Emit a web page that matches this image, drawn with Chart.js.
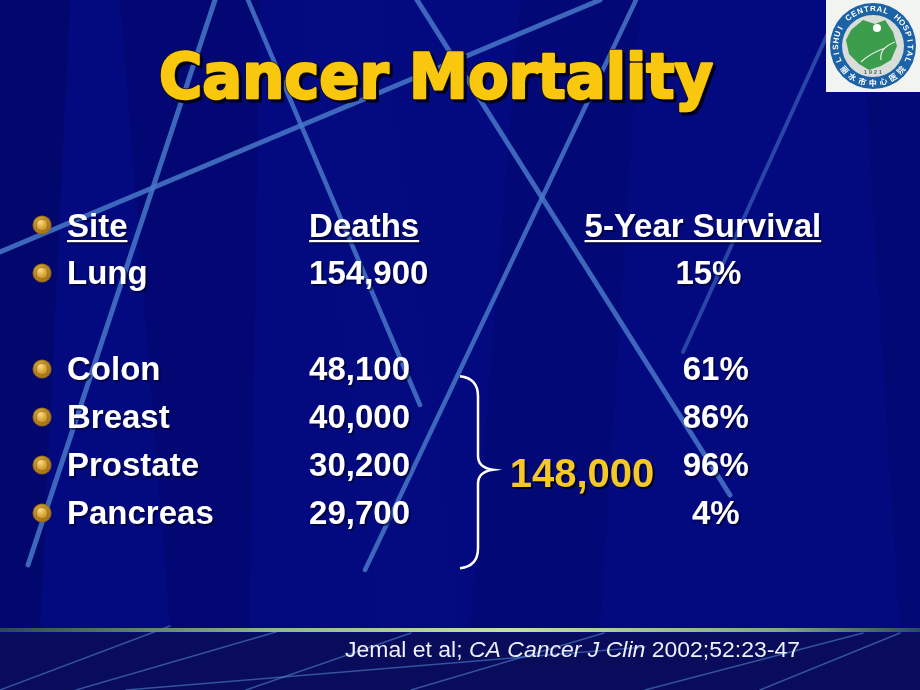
<!DOCTYPE html>
<html>
<head>
<meta charset="utf-8">
<script src="https://cdn.jsdelivr.net/npm/chart.js@4"></script>
<style>
  html, body { margin: 0; padding: 0; background: #03087c; }
  canvas { display: block; }
</style>
</head>
<body>
<canvas id="slide" width="920" height="690"></canvas>
<script>
var titleText = 'Cancer Mortality';
var headers = ['Site', 'Deaths', '5-Year Survival'];
var sites = ['Lung', 'Colon', 'Breast', 'Prostate', 'Pancreas'];
var deaths = [154900, 48100, 40000, 30200, 29700];
var survival = [15, 61, 86, 96, 4];
var groupTotal = 148000;
var citation = ['Jemal et al; ', 'CA Cancer J Clin', ' 2002;52:23-47'];

// layout: row slot per site (blank slot after Lung), column positions in % of width
var rowSlots = [1, 3, 4, 5, 6];
var col = { bullet: 4.57, site: 7.28, deaths: 33.6, brace: 50, total: 55.4, survHead: 76.4, surv: 77.8 };

var bodyFont = 'bold 33px "Liberation Sans", Arial, sans-serif';

// gold coin bullet used as point style
var coin = document.createElement('canvas');
coin.width = 20; coin.height = 20;
(function () {
    var c = coin.getContext('2d');
    var g = c.createRadialGradient(8, 7, 1, 10, 10, 10);
    g.addColorStop(0, '#f6d676');
    g.addColorStop(0.55, '#d09a30');
    g.addColorStop(1, '#8a5c12');
    c.fillStyle = g;
    c.beginPath(); c.arc(10, 10, 9.5, 0, Math.PI * 2); c.fill();
    c.strokeStyle = 'rgba(120,80,10,0.6)';
    c.lineWidth = 1;
    c.beginPath(); c.arc(10, 10, 6, 0, Math.PI * 2); c.stroke();
})();

var bulletData = [{ x: col.bullet, y: 0 }].concat(rowSlots.map(function (r) {
    return { x: col.bullet, y: r };
}));

function line(ctx, pts, w, color) {
    ctx.strokeStyle = color;
    ctx.lineWidth = w;
    ctx.lineCap = 'round';
    ctx.beginPath();
    ctx.moveTo(pts[0], pts[1]);
    for (var i = 2; i < pts.length; i += 2) ctx.lineTo(pts[i], pts[i + 1]);
    ctx.stroke();
}

function poly(ctx, pts, color) {
    ctx.fillStyle = color;
    ctx.beginPath();
    ctx.moveTo(pts[0], pts[1]);
    for (var i = 2; i < pts.length; i += 2) ctx.lineTo(pts[i], pts[i + 1]);
    ctx.closePath();
    ctx.fill();
}

var backgroundPlugin = {
    id: 'slideBackground',
    beforeDraw: function (chart) {
        var ctx = chart.ctx;
        ctx.save();
        ctx.fillStyle = '#03097e';
        ctx.fillRect(0, 0, 920, 690);

        // soft darker / lighter bands
        poly(ctx, [0, 0, 70, 0, 40, 630, 0, 630], 'rgba(0,0,40,0.18)');
        poly(ctx, [120, 0, 260, 0, 250, 630, 170, 630], 'rgba(0,0,50,0.13)');
        poly(ctx, [520, 0, 640, 0, 600, 630, 470, 630], 'rgba(0,0,45,0.11)');
        poly(ctx, [860, 0, 920, 0, 920, 630, 900, 630], 'rgba(0,0,40,0.11)');
        poly(ctx, [300, 0, 380, 0, 460, 630, 380, 630], 'rgba(30,40,170,0.08)');

        // diagonal streaks
        var c1 = 'rgba(70,120,200,0.85)';
        var c2 = 'rgba(70,120,200,0.55)';
        line(ctx, [215, 0, 28, 565], 5, c1);
        line(ctx, [0, 252, 600, 0], 5, c1);
        line(ctx, [248, 0, 420, 405], 4.5, c1);
        line(ctx, [417, 0, 730, 495], 5, c1);
        line(ctx, [636, 0, 365, 570], 4.5, c1);
        line(ctx, [843, 0, 683, 352], 4, c2);

        // bottom band
        ctx.fillStyle = '#080c5a';
        ctx.fillRect(0, 633, 920, 57);
        var c3 = 'rgba(90,140,215,0.55)';
        line(ctx, [170, 626, 0, 690], 1.5, c3);
        line(ctx, [276, 632, 76, 690], 1.5, c3);
        line(ctx, [411, 633, 246, 690], 1.5, c3);
        line(ctx, [604, 633, 411, 690], 1.5, c3);
        line(ctx, [126, 690, 645, 647], 1.5, c3);
        line(ctx, [863, 633, 645, 690], 1.5, c3);
        line(ctx, [900, 633, 760, 690], 1.5, c3);

        // divider bar
        var g = ctx.createLinearGradient(0, 0, 920, 0);
        g.addColorStop(0, '#2a4a50');
        g.addColorStop(0.3, '#8fb890');
        g.addColorStop(0.55, '#c8e0a8');
        g.addColorStop(0.85, '#7fa888');
        g.addColorStop(1, '#2a4a60');
        ctx.fillStyle = g;
        ctx.fillRect(0, 628, 920, 4);
        ctx.restore();
    }
};

function textAt(ctx, txt, x, y, align, underline) {
    ctx.textAlign = align;
    ctx.fillText(txt, x, y);
    if (underline) {
        var w = ctx.measureText(txt).width;
        var x0 = align === 'center' ? x - w / 2 : x;
        ctx.fillRect(x0, y + 3, w, 2.2);
    }
}

function drawLogo(ctx) {
    ctx.save();
    ctx.fillStyle = '#f2f4f2';
    ctx.fillRect(826, 0, 94, 92);
    var cx = 873, cy = 46;
    ctx.fillStyle = '#1c62a6';
    ctx.beginPath(); ctx.arc(cx, cy, 43, 0, Math.PI * 2); ctx.fill();
    ctx.fillStyle = '#d9ddd9';
    ctx.beginPath(); ctx.arc(cx, cy, 31, 0, Math.PI * 2); ctx.fill();
    var blob = [-22, -16, -10, -26, 2, -22, 12, -26, 20, -14, 24, 0, 18, 14, 8, 20, -4, 24, -14, 18, -24, 8, -27, -6];
    ctx.fillStyle = '#3c9e4c';
    ctx.beginPath();
    ctx.moveTo(cx + blob[0], cy + blob[1]);
    for (var i = 2; i < blob.length; i += 2) ctx.lineTo(cx + blob[i], cy + blob[i + 1]);
    ctx.closePath(); ctx.fill();
    ctx.strokeStyle = '#e8f0e8';
    ctx.lineWidth = 1.2;
    ctx.beginPath();
    ctx.moveTo(cx + 22, cy - 4); ctx.quadraticCurveTo(cx + 6, cy + 2, cx + 8, cy + 14);
    ctx.moveTo(cx + 12, cy + 2); ctx.quadraticCurveTo(cx - 4, cy + 8, cx - 12, cy + 16);
    ctx.stroke();
    ctx.fillStyle = '#ffffff';
    ctx.beginPath(); ctx.arc(cx + 4, cy - 18, 4, 0, Math.PI * 2); ctx.fill();

    // ring text
    ctx.fillStyle = '#ffffff';
    ctx.textAlign = 'center';
    ctx.textBaseline = 'middle';
    ctx.font = 'bold 8px "Liberation Sans", Arial, sans-serif';
    var top = 'LISHUI CENTRAL HOSPITAL';
    var a0 = 158, step = 224 / (top.length - 1);
    for (var k = 0; k < top.length; k++) {
        var a = (a0 + k * step) * Math.PI / 180;
        ctx.save();
        ctx.translate(cx + 37 * Math.cos(a), cy + 37 * Math.sin(a));
        ctx.rotate(a + Math.PI / 2);
        ctx.fillText(top[k], 0, 0);
        ctx.restore();
    }
    ctx.font = 'bold 8px "Noto Sans CJK SC", sans-serif';
    var bottom = '丽水市中心医院';
    for (var m = 0; m < bottom.length; m++) {
        var b = (140 - m * 16.5) * Math.PI / 180;
        ctx.save();
        ctx.translate(cx + 37 * Math.cos(b), cy + 37 * Math.sin(b));
        ctx.rotate(b - Math.PI / 2);
        ctx.fillText(bottom[m], 0, 0);
        ctx.restore();
    }
    ctx.fillStyle = '#5a6a7a';
    ctx.font = 'bold 6px "Liberation Sans", sans-serif';
    ctx.fillText('1 9 2 1', cx, cy + 26);
    ctx.restore();
}

var slidePlugin = {
    id: 'slideText',
    afterDatasetsDraw: function (chart) {
        var ctx = chart.ctx, xs = chart.scales.x, ys = chart.scales.y;
        ctx.save();

        // title
        ctx.font = 'bold 62px "DejaVu Sans", sans-serif';
        ctx.textBaseline = 'alphabetic';
        ctx.textAlign = 'left';
        var tw = ctx.measureText(titleText).width;
        ctx.save();
        ctx.translate(159, 98);
        ctx.scale(554 / tw, 1);
        ctx.lineJoin = 'round';
        ctx.fillStyle = '#00001e';
        ctx.strokeStyle = '#00001e';
        ctx.lineWidth = 3;
        ctx.fillText(titleText, 3, 3);
        ctx.strokeText(titleText, 3, 3);
        ctx.lineWidth = 4;
        ctx.strokeStyle = '#1a1408';
        ctx.strokeText(titleText, 0, 0);
        ctx.lineWidth = 2.5;
        ctx.strokeStyle = '#f9c80e';
        ctx.strokeText(titleText, 0, 0);
        ctx.fillStyle = '#f9c80e';
        ctx.fillText(titleText, 0, 0);
        ctx.restore();

        // table
        ctx.font = bodyFont;
        ctx.fillStyle = '#ffffff';
        ctx.shadowColor = 'rgba(0,0,30,0.55)';
        ctx.shadowOffsetX = 2;
        ctx.shadowOffsetY = 2;
        var hy = ys.getPixelForValue(0) + 12;
        textAt(ctx, headers[0], xs.getPixelForValue(col.site), hy, 'left', true);
        textAt(ctx, headers[1], xs.getPixelForValue(col.deaths), hy, 'left', true);
        textAt(ctx, headers[2], xs.getPixelForValue(col.survHead), hy, 'center', true);
        for (var i = 0; i < sites.length; i++) {
            var y = ys.getPixelForValue(rowSlots[i]) + 11;
            textAt(ctx, sites[i], xs.getPixelForValue(col.site), y, 'left');
            textAt(ctx, deaths[i].toLocaleString('en-US'), xs.getPixelForValue(col.deaths), y, 'left');
            var sx = xs.getPixelForValue(i === 0 ? col.survHead + 0.6 : col.surv);
            textAt(ctx, survival[i] + '%', sx, y, 'center');
        }

        // brace over the four grouped sites
        ctx.shadowColor = 'transparent';
        var bx = xs.getPixelForValue(col.brace);
        var bTop = ys.getPixelForValue(rowSlots[1] + 0.15);
        var bBot = ys.getPixelForValue(rowSlots[4] + 1.15);
        var bMid = ys.getPixelForValue(rowSlots[3] + 0.1);
        ctx.strokeStyle = '#ffffff';
        ctx.lineWidth = 2.5;
        ctx.beginPath();
        ctx.moveTo(bx, bTop);
        ctx.quadraticCurveTo(bx + 18, bTop + 2, bx + 18, bTop + 20);
        ctx.lineTo(bx + 18, bMid - 14);
        ctx.quadraticCurveTo(bx + 18, bMid - 2, bx + 33, bMid);
        ctx.quadraticCurveTo(bx + 18, bMid + 2, bx + 18, bMid + 14);
        ctx.lineTo(bx + 18, bBot - 20);
        ctx.quadraticCurveTo(bx + 18, bBot - 2, bx, bBot);
        ctx.stroke();

        ctx.font = 'bold 40px "Liberation Sans", Arial, sans-serif';
        ctx.shadowColor = 'rgba(0,0,20,0.8)';
        ctx.fillStyle = '#f6c826';
        ctx.textAlign = 'left';
        ctx.fillText(groupTotal.toLocaleString('en-US'), xs.getPixelForValue(col.total), bMid + 17);
        ctx.shadowColor = 'transparent';

        // citation
        var parts = [
            { t: citation[0], f: '22px "Liberation Sans Narrow", "Liberation Sans", sans-serif' },
            { t: citation[1], f: 'italic 22px "Liberation Sans Narrow", "Liberation Sans", sans-serif' },
            { t: citation[2], f: '22px "Liberation Sans Narrow", "Liberation Sans", sans-serif' }
        ];
        var total = 0;
        parts.forEach(function (p) { ctx.font = p.f; p.w = ctx.measureText(p.t).width; total += p.w; });
        ctx.save();
        ctx.translate(345, 657);
        ctx.scale(455 / total, 1);
        ctx.fillStyle = '#eef0f8';
        var px = 0;
        parts.forEach(function (p) { ctx.font = p.f; ctx.fillText(p.t, px, 0); px += p.w; });
        ctx.restore();

        ctx.restore();
        drawLogo(ctx);
    }
};

new Chart(document.getElementById('slide'), {
    type: 'scatter',
    data: {
        datasets: [{
            data: bulletData,
            pointStyle: coin,
            pointRadius: 10,
            pointHoverRadius: 10
        }]
    },
    options: {
        responsive: false,
        animation: false,
        events: [],
        layout: { padding: 0, autoPadding: false },
        plugins: {
            legend: { display: false },
            tooltip: { enabled: false }
        },
        scales: {
            x: { type: 'linear', min: 0, max: 100, display: false },
            y: { type: 'linear', reverse: true, min: -4.6875, max: 9.6875, display: false }
        }
    },
    plugins: [backgroundPlugin, slidePlugin]
});
</script>
</body>
</html>
